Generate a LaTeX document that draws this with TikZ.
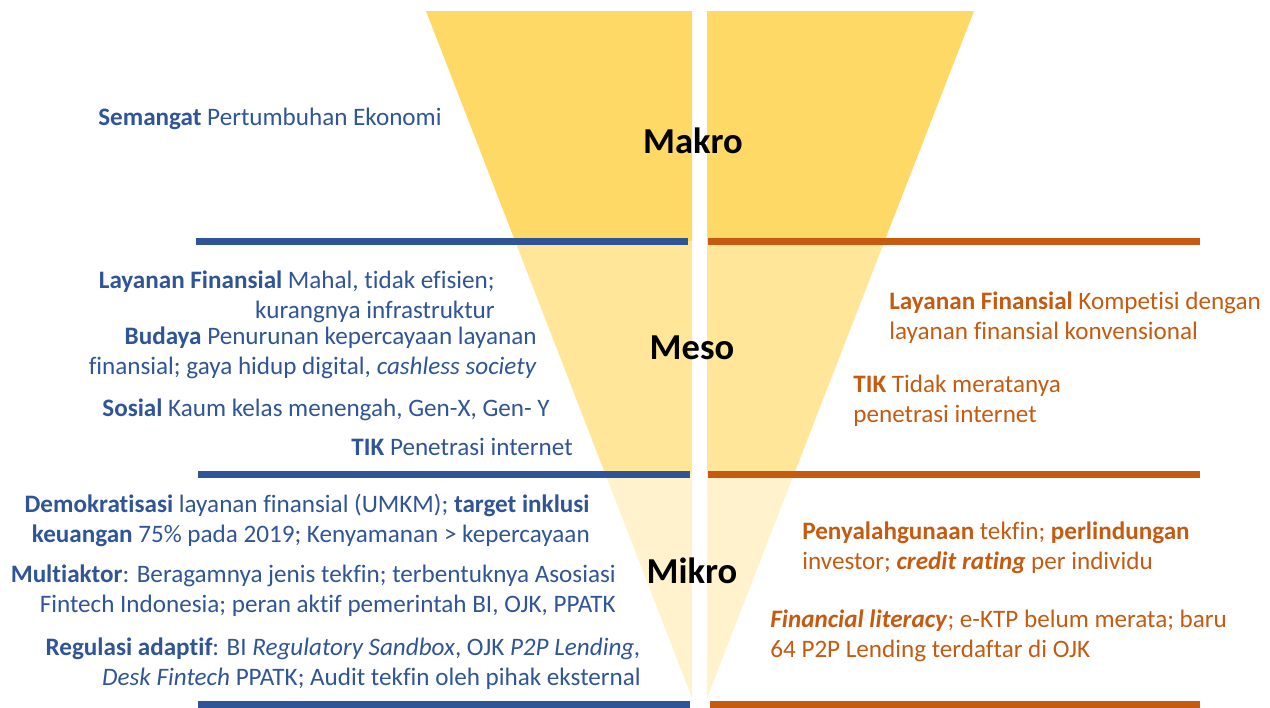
\documentclass[tikz,border=0pt]{standalone}
\usepackage{fontspec}
\setmainfont{Carlito}[Ligatures={NoCommon}]

\definecolor{makroKuning}{HTML}{FFD966}
\definecolor{mesoKuning}{HTML}{FFE699}
\definecolor{mikroKuning}{HTML}{FFF2CC}
\definecolor{biruTeks}{HTML}{2F5597}
\definecolor{oranyeTeks}{HTML}{C55A11}

\newcommand{\teksIsi}{\fontsize{14.3}{17}\selectfont}
\newcommand{\teksJudul}{\fontsize{20.8}{24}\selectfont\bfseries}

\tikzset{
  kiri/.style={text=biruTeks, font=\teksIsi, inner sep=0pt, align=right, anchor=east},
  kanan/.style={text=oranyeTeks, font=\teksIsi, inner sep=0pt, align=left, anchor=west},
  judul/.style={text=black, font=\teksJudul, inner sep=0pt},
  garisKiri/.style={draw=biruTeks, line width=0.14cm},
  garisKanan/.style={draw=oranyeTeks, line width=0.14cm}
}

\begin{document}
\begin{tikzpicture}[x=0.02cm, y=-0.02cm]
  \useasboundingbox (0,0) rectangle (1270,707);

  % two halves of the funnel, one colour per level
  \foreach \ya/\yb/\warna in {11/241/makroKuning, 241/474/mesoKuning, 474/704/mikroKuning}{
    \begin{scope}
      \clip (0,\ya) rectangle (1270,\yb);
      \fill[\warna] (426,11) -- (692,11) -- (692,698) -- cycle;
      \fill[\warna] (707,11) -- (974,11) -- (707,698) -- cycle;
    \end{scope}
  }

  % level dividers
  \draw[garisKiri] (196,241) -- (688,241);
  \draw[garisKiri] (198,474) -- (690,474);
  \draw[garisKiri] (198,704) -- (690,704);
  \draw[garisKanan] (708,241) -- (1200,241);
  \draw[garisKanan] (708,474) -- (1200,474);
  \draw[garisKanan] (710,704) -- (1200,704);

  % levels
  \node[judul] (makro) at (693,141) {Makro};
  \node[judul] (meso) at (692,348) {Meso};
  \node[judul] (mikro) at (692,571) {Mikro};

  % left side
  \node[kiri, anchor=west] (semangat) at (98,119) {\textbf{Semangat} Pertumbuhan Ekonomi};
  \node[kiri] (lfKiri) at (495,297) {\textbf{Layanan Finansial} Mahal, tidak efisien;\\kurangnya infrastruktur};
  \node[kiri] (budaya) at (537,353) {\textbf{Budaya} Penurunan kepercayaan layanan\\finansial; gaya hidup digital, \textit{cashless society}};
  \node[kiri] (sosial) at (550,410) {\textbf{Sosial} Kaum kelas menengah, Gen-X, Gen- Y};
  \node[kiri] (tikKiri) at (573,447) {\textbf{TIK} Penetrasi internet};
  \node[kiri] (demokrasi) at (590,520) {\textbf{Demokratisasi} layanan finansial (UMKM); \textbf{target inklusi}\\\textbf{keuangan} 75\% pada 2019; Kenyamanan > kepercayaan};
  \node[kiri] (multiaktor) at (616,591) {\textbf{Multiaktor}: Beragamnya jenis tekfin; terbentuknya Asosiasi\\Fintech Indonesia; peran aktif pemerintah BI, OJK, PPATK};
  \node[kiri] (regulasi) at (641,664) {\textbf{Regulasi adaptif}: BI \textit{Regulatory Sandbox}, OJK \textit{P2P Lending,}\\\textit{Desk Fintech} PPATK; Audit tekfin oleh pihak eksternal};

  % right side
  \node[kanan] (lfKanan) at (889,318) {\textbf{Layanan Finansial} Kompetisi dengan\\layanan finansial konvensional};
  \node[kanan] (tikKanan) at (853,401) {\textbf{TIK} Tidak meratanya\\penetrasi internet};
  \node[kanan] (penyalahgunaan) at (802,548) {\textbf{Penyalahgunaan} tekfin; \textbf{perlindungan}\\investor; \textbf{\textit{credit rating}} per individu};
  \node[kanan] (literasi) at (770,636) {\textbf{\textit{Financial literacy}}; e-KTP belum merata; baru\\64 P2P Lending terdaftar di OJK};
\end{tikzpicture}
\end{document}
